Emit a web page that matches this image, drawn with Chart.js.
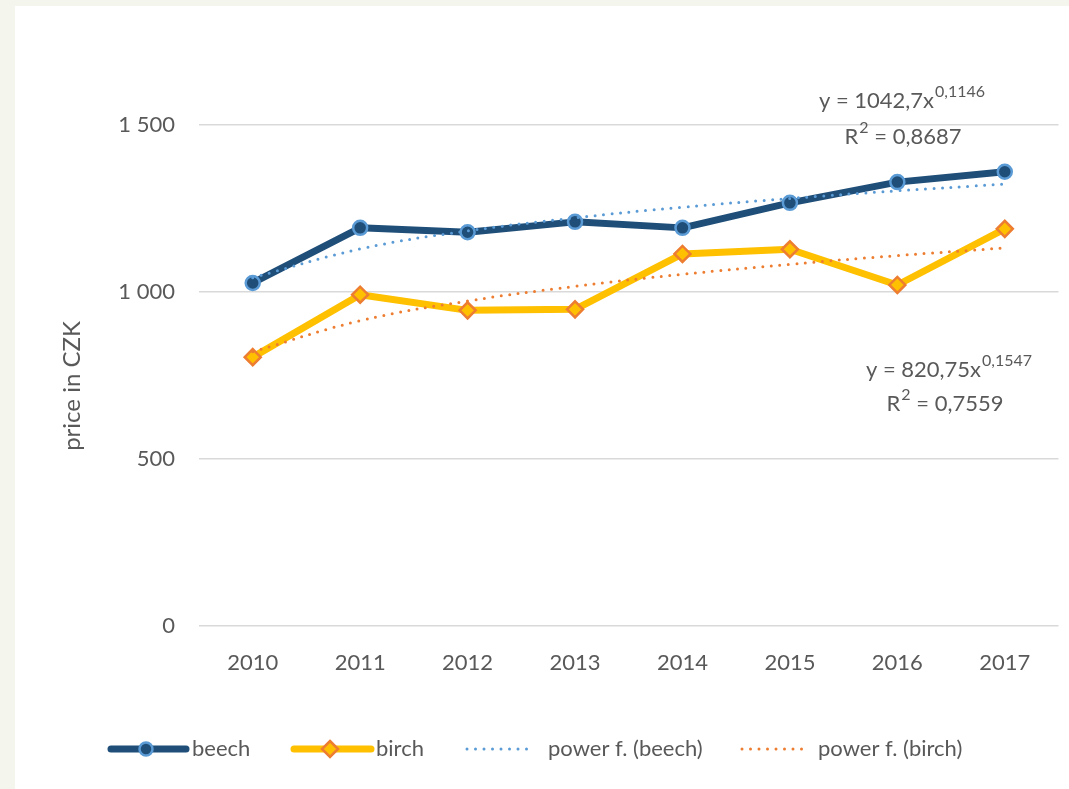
<!DOCTYPE html>
<html>
<head>
<meta charset="utf-8">
<script src="https://cdn.jsdelivr.net/npm/chart.js@4"></script>
<style>
  html, body { margin: 0; padding: 0; background: #f4f5ec; }
  .chart-container {
    position: absolute; left: 15px; top: 6px;
    width: 1054px; height: 783px; background: #ffffff;
  }
</style>
</head>
<body>
<div class="chart-container"><canvas id="chart" width="1054" height="783"></canvas></div>
<script>
// Prices of firewood (CZK)
const years = ['2010', '2011', '2012', '2013', '2014', '2015', '2016', '2017'];
const beech = [1027, 1192, 1179, 1210, 1192, 1267, 1329, 1360];
const birch = [805, 992, 945, 948, 1114, 1128, 1021, 1189];
// power trend lines as drawn in the picture
const beechTrend = [1043, 1129, 1183, 1222, 1254, 1280, 1303, 1323];
const birchTrend = [821, 914, 973, 1017, 1053, 1083, 1109, 1132];
const yTicks = [0, 500, 1000, 1500];

const textColor = '#595959';
const fontFamily = 'Lato, "Open Sans", sans-serif';
const fontSize = 22;

// draws text parts centered at cx; parts = [[text, isSuperscript], ...]
function drawParts(ctx, cx, cy, parts) {
  const big = fontSize + 'px ' + fontFamily;
  const small = '16px ' + fontFamily;
  let total = 0;
  const widths = parts.map(([t, sup]) => {
    ctx.font = sup ? small : big;
    const w = ctx.measureText(t).width + (sup ? 1 : 0);
    total += w;
    return w;
  });
  let x = cx - total / 2;
  ctx.textAlign = 'left';
  ctx.textBaseline = 'middle';
  parts.forEach(([t, sup], i) => {
    ctx.font = sup ? small : big;
    ctx.fillText(t, sup ? x + 1 : x, sup ? cy - 9 : cy);
    x += widths[i];
  });
}

const annotations = {
  id: 'annotations',
  afterDraw(chart) {
    const ctx = chart.ctx;
    ctx.save();
    ctx.fillStyle = textColor;
    drawParts(ctx, 887, 95, [['y = 1042,7x', false], ['0,1146', true]]);
    drawParts(ctx, 888, 131, [['R', false], ['2', true], [' = 0,8687', false]]);
    drawParts(ctx, 934, 364, [['y = 820,75x', false], ['0,1547', true]]);
    drawParts(ctx, 930, 398, [['R', false], ['2', true], [' = 0,7559', false]]);

    // axis title
    ctx.font = '24px ' + fontFamily;
    ctx.textAlign = 'center';
    ctx.textBaseline = 'middle';
    ctx.translate(57, 380);
    ctx.rotate(-Math.PI / 2);
    ctx.fillText('price in CZK', 0, 0);
    ctx.restore();
  }
};

// legend with line + marker samples, drawn like the original
const legendPlugin = {
  id: 'customLegend',
  afterDraw(chart) {
    const ctx = chart.ctx;
    const y = 743;
    ctx.save();
    ctx.lineCap = 'round';

    // beech
    ctx.strokeStyle = '#1f4e79';
    ctx.lineWidth = 7;
    ctx.beginPath(); ctx.moveTo(96, y); ctx.lineTo(171, y); ctx.stroke();
    ctx.fillStyle = '#1f4e79';
    ctx.strokeStyle = '#5b9bd5';
    ctx.lineWidth = 2.5;
    ctx.beginPath(); ctx.arc(131, y, 6.5, 0, Math.PI * 2); ctx.fill(); ctx.stroke();

    // birch
    ctx.strokeStyle = '#ffc000';
    ctx.lineWidth = 7;
    ctx.beginPath(); ctx.moveTo(279, y); ctx.lineTo(356, y); ctx.stroke();
    ctx.fillStyle = '#ffc000';
    ctx.strokeStyle = '#ed7d31';
    ctx.lineWidth = 2.5;
    ctx.beginPath();
    ctx.moveTo(315, y - 8); ctx.lineTo(323, y); ctx.lineTo(315, y + 8); ctx.lineTo(307, y);
    ctx.closePath(); ctx.fill(); ctx.stroke();

    // trend lines
    ctx.lineWidth = 3;
    ctx.setLineDash([0, 8.5]);
    ctx.strokeStyle = '#5b9bd5';
    ctx.beginPath(); ctx.moveTo(452, y); ctx.lineTo(520, y); ctx.stroke();
    ctx.strokeStyle = '#ed7d31';
    ctx.beginPath(); ctx.moveTo(727, y); ctx.lineTo(795, y); ctx.stroke();
    ctx.setLineDash([]);

    ctx.fillStyle = textColor;
    ctx.font = fontSize + 'px ' + fontFamily;
    ctx.textAlign = 'left';
    ctx.textBaseline = 'middle';
    ctx.fillText('beech', 177, y);
    ctx.fillText('birch', 361, y);
    ctx.fillText('power f. (beech)', 533, y);
    ctx.fillText('power f. (birch)', 803, y);
    ctx.restore();
  }
};

const ctx = document.getElementById('chart').getContext('2d');
new Chart(ctx, {
  type: 'line',
  data: {
    labels: years,
    datasets: [
      {
        label: 'power f. (beech)',
        data: beechTrend,
        borderColor: '#5b9bd5',
        borderWidth: 3,
        borderDash: [0, 8.5],
        borderCapStyle: 'round',
        pointRadius: 0,
        tension: 0.4
      },
      {
        label: 'power f. (birch)',
        data: birchTrend,
        borderColor: '#ed7d31',
        borderWidth: 3,
        borderDash: [0, 8.5],
        borderCapStyle: 'round',
        pointRadius: 0,
        tension: 0.4
      },
      {
        label: 'beech',
        data: beech,
        borderColor: '#1f4e79',
        borderWidth: 7,
        borderJoinStyle: 'round',
        pointStyle: 'circle',
        pointRadius: 7,
        pointBackgroundColor: '#1f4e79',
        pointBorderColor: '#5b9bd5',
        pointBorderWidth: 2.5,
        tension: 0
      },
      {
        label: 'birch',
        data: birch,
        borderColor: '#ffc000',
        borderWidth: 7,
        borderJoinStyle: 'round',
        pointStyle: 'rectRot',
        pointRadius: 8,
        pointBackgroundColor: '#ffc000',
        pointBorderColor: '#ed7d31',
        pointBorderWidth: 2.5,
        tension: 0
      }
    ]
  },
  options: {
    responsive: false,
    animation: false,
    layout: { padding: { top: 119, right: 7, left: 0, bottom: 0 } },
    plugins: {
      legend: { display: false },
      tooltip: { enabled: false }
    },
    scales: {
      x: {
        offset: true,
        grid: { display: false, drawTicks: false },
        border: { display: false },
        ticks: {
          color: textColor,
          font: { family: fontFamily, size: fontSize },
          padding: 24
        },
        afterFit(scale) { scale.height = 163; }
      },
      y: {
        min: 0,
        max: 1500,
        afterBuildTicks(scale) { scale.ticks = yTicks.map(v => ({ value: v })); },
        grid: { color: '#d9d9d9', lineWidth: 1.5, drawTicks: false },
        border: { display: false },
        ticks: {
          color: textColor,
          font: { family: fontFamily, size: fontSize },
          padding: 24,
          callback: function(value) {
            return value >= 1000 ? Math.floor(value / 1000) + ' ' + String(value % 1000).padStart(3, '0') : String(value);
          }
        },
        afterFit(scale) { scale.width = 184; }
      }
    }
  },
  plugins: [annotations, legendPlugin]
});
</script>
</body>
</html>
